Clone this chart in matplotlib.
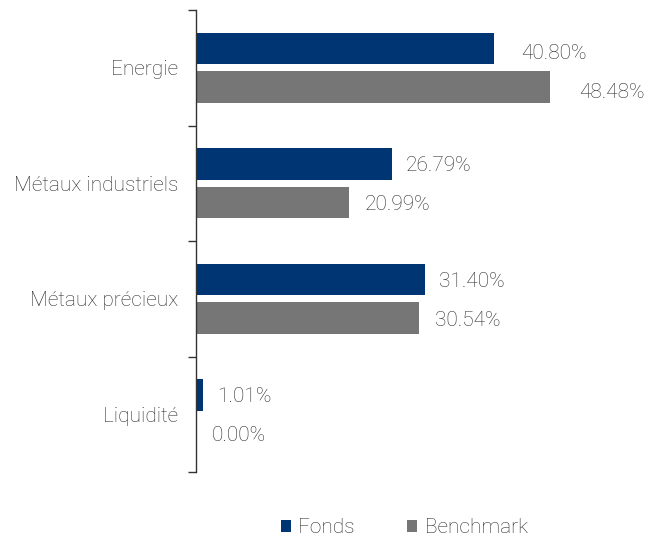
import matplotlib
matplotlib.use("Agg")
import matplotlib.pyplot as plt
import numpy as np

categories = ["Energie", "Métaux industriels", "Métaux précieux", "Liquidité"]
fonds = [40.80, 26.79, 31.40, 1.01]
benchmark = [48.48, 20.99, 30.54, 0.00]
series_names = ["Fonds", "Benchmark"]

plt.rcParams['font.family'] = ['Roboto', 'DejaVu Sans']
text_color = "#2e2e2e"
c_fonds = "#003574"
c_bench = "#767676"
FS = 15
FW = "light"

fig = plt.figure(figsize=(6.52, 5.39), dpi=100)
ax = fig.add_axes([196/652, 67/539, 438/652, 462/539])

y = np.arange(len(categories))
h = 0.27
off = 0.167
ax.barh(y - off, fonds, height=h, color=c_fonds, label=series_names[0])
ax.barh(y + off, benchmark, height=h, color=c_bench, label=series_names[1])

ax.set_xlim(0, 60)
ax.set_ylim(len(categories) - 0.5, -0.5)

for i, (f, b) in enumerate(zip(fonds, benchmark)):
    pad = 27 if i == 0 else 14
    dy = -5 if i == 0 else -2
    ax.annotate(f"{f:.2f}%", (f, i - off), xytext=(pad, dy), textcoords="offset pixels",
                va="center", ha="left", fontsize=FS, color=text_color, fontweight=FW)
    ax.annotate(f"{b:.2f}%", (b, i + off), xytext=(pad + 2, dy), textcoords="offset pixels",
                va="center", ha="left", fontsize=FS, color=text_color, fontweight=FW)

for s in ["top", "right", "bottom"]:
    ax.spines[s].set_visible(False)
ax.spines["left"].set_color("#333333")
ax.spines["left"].set_linewidth(1.0)
ax.set_xticks([])
ax.set_yticks(y)
ax.set_yticklabels(categories, fontsize=FS, color=text_color, fontweight=FW)
ax.tick_params(axis="y", which="major", length=0, pad=13)
ax.set_yticks(np.arange(-0.5, len(categories) + 0.5, 1), minor=True)
ax.tick_params(axis="y", which="minor", length=6, color="#333333", width=1.0)

leg = fig.legend(loc="lower center", bbox_to_anchor=(0.62, -0.032), ncol=2, frameon=False,
                 fontsize=FS, handlelength=0.5, handleheight=0.5, handletextpad=0.35,
                 columnspacing=2.5, labelcolor=text_color)
for t in leg.get_texts():
    t.set_fontweight(FW)

fig.savefig("out.png", dpi=100)
